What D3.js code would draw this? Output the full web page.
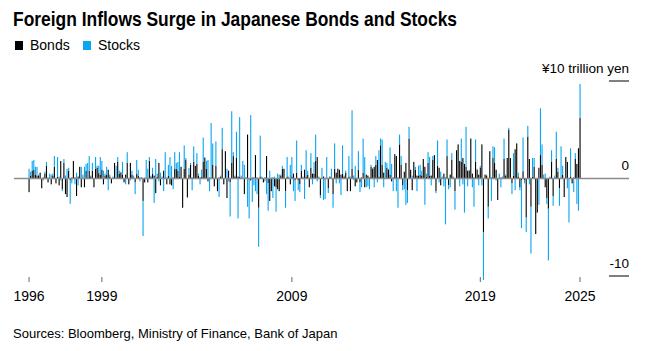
<!DOCTYPE html>
<html>
<head>
<meta charset="utf-8">
<script src="https://cdn.jsdelivr.net/npm/d3@7"></script>
<style>
  html, body { margin: 0; padding: 0; background: #fff; }
  svg { display: block; font-family: 'Liberation Sans', Arial, sans-serif; }
</style>
</head>
<body>
<div id="chart"></div>
<script>
// Monthly foreign net purchases, trillion yen
const bonds = [
  -1.4, 0.3, 0.8, 0.9, 0.4, 0.3, 0.3, 0.6, -1.0, 0.1, 0.5, 1.3, -0.4, 0.1, -0.6, 0.3, 1.2, -0.5, 0.2, -0.7,
  1.8, -1.1, 1.6, -1.6, -1.9, 0.8, -0.2, 0.1, 1.8, 0.1, -1.8, 0.2, 1.2, -0.9, 0.1, -0.9, 0.8, 0.1, 0.8, 0.2,
  0.8, -0.9, 1.0, 1.1, 0.55, 0.4, 0.9, -0.6, 0.3,
  0.4, 0.9, 0.2, -0.5, 0.1, 1.6, 0.1, 1.7, 0.5, 0.6, 0.4, -0.4, 0.4, 1.6, -0.6, 1.6, 0.4, 0.1, -0.4, 0.5,
  0.3, 0.1, 0.1, -2.3, -0.4, 0.1, -0.4, 1.8, 0.2, 0.5, 0.3, -1.5, 0.2, 1.6, -0.7, 0.1, 0.8, 0.1, -0.6, 0.3,
  -0.6, -0.7, 0.1, 1.0, 1.0, 0.8, 0.2, 1.2, -3.0, 1.0, 1.9,
  -1.9, 0.4, 1.4, 0.1, 1.7, 1.3, 1.5, 0.3, 0.1, 0.2, 1.7, 2.1, 1.0, -0.3, 0.1, 0.1, 1.4, -0.8, 1.3, -1.3,
  0.1, 0.2, 3.0, -0.6, 2.8, -2.0, 0.8, -0.4, 1.6, 2.3, 0.2, 2.1, 0.2, 0.2, 0.1, 0.1, -1.6, 0.1, 4.5, -0.1,
  -0.2, 0.1, 0.1, 2.4, 0.1, -3.0, 0.2, 0.1, -0.4, 0.1,
  2.3, -0.5, -2.3, -1.3, 0.1, -0.8, -0.9, -1.1, -1.3, 0.3, 1.0, 1.0, -1.3, 0.2, 0.0, -0.6, 0.2, 0.5, -0.2, 0.6,
  -0.2, -0.6, 0.8, 0.1, 0.9, 0.2, 0.4, -0.9, 1.1, 0.5, 0.5, 1.8, 2.2, 0.1, -1.7, 0.1, 0.2, -0.1, 0.1, -1.0,
  0.2, 0.1, -1.6, 1.0, 0.6, 1.0, 0.9, 0.4, 0.5, 0.2,
  0.6, -1.3, 0.2, -1.3, 1.0, -0.1, -0.8, -0.4, 0.9, -0.4, 0.1, 0.6, -0.9, 0.4, 0.3, 0.1, 1.2, 1.0, 1.2, 1.4,
  1.9, 0.2, 3.4, 1.4, 0.6, 0.1, 1.1, 0.9, 0.4, -0.3, 0.1, 2.5, 2.3, 0.1, 3.5, 1.4, -0.7, 0.7, 1.6, -1.2,
  4.1, 0.9, -1.2, 1.7, 0.9, 0.3, 0.3, 0.4, 0.3, 2.0, 1.2,
  0.2, 1.6, 0.3, 0.3, 1.9, 2.4, -1.3, 1.3, 1.1, -0.7, 0.1, 0.5, 0.1, 2.3, -0.7, 0.4, 1.9, 0.1, -1.3, 2.9,
  3.5, 1.8, 1.7, 2.1, 1.5, 1.2, 0.8, 0.8, 4.1, 0.5, 0.1, 1.7, 0.9, 0.4, 1.1, 3.5, -5.5, 0.4, 0.3, -2.9,
  2.8, 0.1, 2.1, 1.6, 0.9, -2.2, 0.1, 0.1, 0.1, 2.0,
  0.3, 2.1, 5.0, 2.1, -0.5, 0.3, 3.0, 3.6, 0.2, -0.9, -0.2, 0.75, -0.2, -4.0, 4.3, 2.0, -2.9, 0.2, 1.2, -5.7,
  -3.5, 1.1, 2.4, 1.4, 0.1, -0.9, -2.0, -3.1, 0.1, 1.7, -1.8, 0.1, 2.0, 0.7, -1.0, 0.1, 0.4, -1.9, 2.2, 1.7,
  0.0, 0.2, -0.5, 0.1, 2.0, 1.5, 3.1, 6.2
];
const stocks = [
  1.0, 0.4, 1.0, 1.0, 0.8, 0.9, 0.1, 0.0, 0.0, -0.2, 0.2, 0.4, 0.1, 0.4, 0.4, 0.2, 1.1, 0.0, 2.0, 0.2,
  -0.2, -0.2, 0.4, 0.3, 1.0, 0.3, -2.4, -0.5, 0.0, -0.6, 0.6, -0.7, 0.0, 1.2, 0.3, 1.2, 0.7, 1.5, 1.5, 0.1,
  0.8, 0.0, 1.2, 0.2, 0.75, 1.8, 0.9, 0.8, 0.2,
  0.8, -1.2, 0.2, 0.0, 0.1, 0.0, 1.2, 0.5, 0.3, 0.1, 1.3, 0.0, -0.6, 1.1, 0.0, -0.2, 0.4, 0.2, -1.2, 1.4,
  0.6, -0.3, 0.0, -3.6, 0.1, 1.8, 1.0, 0.4, 0.1, 0.6, -2.5, 2.0, 0.3, -0.3, 0.6, 0.1, -1.3, 2.6, 0.1, 1.1,
  2.2, 1.3, -1.1, 1.7, 0.6, 0.9, 2.5, 0.0, 0.0, 2.4, 0.2,
  -0.1, 0.7, 0.2, -1.2, 1.6, 0.0, 1.1, 0.2, -0.6, 0.7, 2.5, 0.1, 0.8, 1.9, -1.3, 5.6, 2.2, 0.1, 2.5, 0.0,
  -1.9, 0.1, 2.2, 0.0, 0.0, 1.0, -0.3, -3.5, 5.3, 0.4, 0.1, 2.7, -4.1, 6.1, 0.2, 1.7, 1.4, 0.0, -2.9, -4.0,
  6.5, -2.4, -0.7, -1.3, -1.6, -4.0, 4.2, 0.1, 0.0, -0.3,
  -1.6, -2.8, 0.8, 0.1, -2.0, 0.2, -2.5, 0.5, 0.4, 0.1, 0.3, 0.0, -1.7, 2.0, 0.2, 1.4, 2.0, -1.3, -2.1, 3.3,
  -1.0, -0.8, 0.6, 0.1, -2.1, 2.7, 0.4, 0.1, 1.5, -0.6, 1.2, 2.7, -0.3, 0.1, -0.3, 1.0, -2.2, -2.0, 2.1, -0.5,
  0.0, 0.9, -1.4, 2.6, -0.5, 0.0, -0.5, -1.7, 2.9, 0.1,
  0.2, 0.0, 2.1, 0.2, 6.0, 0.3, 1.3, 0.1, 1.9, -1.0, -0.9, 3.5, 2.2, -0.9, -0.8, -1.1, 0.2, 0.1, -0.9, 0.9,
  -0.4, 2.7, 0.7, 2.6, -0.9, 1.6, 0.5, 0.1, 2.8, 1.5, -1.3, 0.0, -1.3, -3.0, 1.0, 0.9, -0.5, -1.1, -2.7, -1.3,
  1.2, 0.0, 0.3, 0.0, 0.3, -1.3, 1.0, 1.0, 0.5, 0.0, -2.7,
  0.3, 1.1, 1.9, -0.7, 0.4, 0.0, -0.2, 2.6, -0.4, 0.7, 0.1, -0.8, -4.7, 1.7, -0.4, -0.9, 0.7, 0.1, -1.9, 0.0,
  0.0, -0.8, 2.4, -0.6, -3.5, 4.1, -0.8, 0.1, 0.0, -0.9, -2.9, 2.3, 0.1, -0.7, 0.2, -0.7, -4.9, 0.0, 0.1, -1.2,
  0.0, -2.3, 1.2, 1.6, -0.2, 0.0, 0.4, -0.9, 0.1, 2.1,
  0.1, 0.0, 0.2, 0.0, -1.1, 2.3, -1.2, 0.0, 0.4, -0.3, -4.9, 3.45, -0.3, -1.5, 1.1, -0.6, -4.8, 1.9, 0.9, 0.0,
  0.0, -2.7, 4.8, 2.1, 0.3, 0.5, -0.6, -5.3, 0.1, 1.2, -1.0, 0.2, 2.8, 0.4, -1.8, 3.2, 0.9, 0.0, 0.0, -1.0,
  -4.5, 2.9, 0.0, -1.4, 0.6, -2.6, -3.3, 3.5
];
const tickYears = ['1996', '1999', '2009', '2019', '2025'];
const tickBars = [0, 46, 166, 285, 348];
const yTicks = [10, 0, -10];
const yTickLabels = ['¥10 trillion yen', '0', '-10'];
const seriesKeys = ['bonds', 'stocks'];
const seriesNames = ['Bonds', 'Stocks'];

(function () {
  const W = 649, H = 351;
  const COLORS = { bonds: '#000000', stocks: '#0aa6f2' };

  const svg = d3.select('#chart').append('svg')
    .attr('width', W)
    .attr('height', H);

  const rows = bonds.map((b, i) => ({ i, bonds: b, stocks: stocks[i] }));

  const x = d3.scaleBand()
    .domain(rows.map(d => d.i))
    .range([28.5, 580.6])
    .paddingInner(0.3)
    .paddingOuter(0);
  const y = d3.scaleLinear().domain([-10, 10]).range([276, 81]);

  const stacked = d3.stack()
    .keys(seriesKeys)
    .offset(d3.stackOffsetDiverging)(rows);

  // title + legend
  svg.append('text')
    .attr('x', 13).attr('y', 26)
    .attr('font-size', 21).attr('font-weight', 'bold')
    .attr('textLength', 444).attr('lengthAdjust', 'spacingAndGlyphs')
    .text('Foreign Inflows Surge in Japanese Bonds and Stocks');

  const legend = svg.append('g').attr('transform', 'translate(15,41)');
  const legendX = [0, 68];
  seriesKeys.forEach((k, i) => {
    const item = legend.append('g').attr('transform', `translate(${legendX[i]},0)`);
    item.append('rect').attr('width', 8).attr('height', 9).attr('fill', COLORS[k]);
    item.append('text').attr('x', 15).attr('y', 8.5).attr('font-size', 14).text(seriesNames[i]);
  });

  // bars
  svg.append('g').selectAll('g')
    .data(stacked)
    .join('g')
    .attr('fill', s => COLORS[s.key])
    .selectAll('rect')
    .data(s => s)
    .join('rect')
    .attr('x', d => x(d.data.i))
    .attr('width', x.bandwidth())
    .attr('y', d => y(d[1]))
    .attr('height', d => Math.max(0, y(d[0]) - y(d[1])));

  // zero line across the full width
  svg.append('line')
    .attr('x1', 14).attr('x2', 629)
    .attr('y1', y(0)).attr('y2', y(0))
    .attr('stroke', '#8c8c8c').attr('stroke-width', 1.4);

  // right-hand value axis
  const yAxis = svg.append('g');
  yTicks.forEach((v, i) => {
    if (v !== 0) {
      yAxis.append('line')
        .attr('x1', 609).attr('x2', 629)
        .attr('y1', y(v)).attr('y2', y(v))
        .attr('stroke', '#000').attr('stroke-width', 1);
    }
    yAxis.append('text')
      .attr('x', 629).attr('y', y(v) - 8.5)
      .attr('text-anchor', 'end').attr('font-size', 13.5)
      .text(yTickLabels[i]);
  });

  // time axis
  const xAxis = svg.append('g');
  tickBars.forEach((b, i) => {
    const cx = x(b) + x.bandwidth() / 2;
    xAxis.append('line')
      .attr('x1', cx).attr('x2', cx)
      .attr('y1', 277).attr('y2', 282)
      .attr('stroke', '#666').attr('stroke-width', 1);
    xAxis.append('text')
      .attr('x', cx).attr('y', 301)
      .attr('text-anchor', 'middle').attr('font-size', 14)
      .text(tickYears[i]);
  });

  svg.append('text')
    .attr('x', 13).attr('y', 338)
    .attr('font-size', 13)
    .text('Sources: Bloomberg, Ministry of Finance, Bank of Japan');
})();
</script>
</body>
</html>
